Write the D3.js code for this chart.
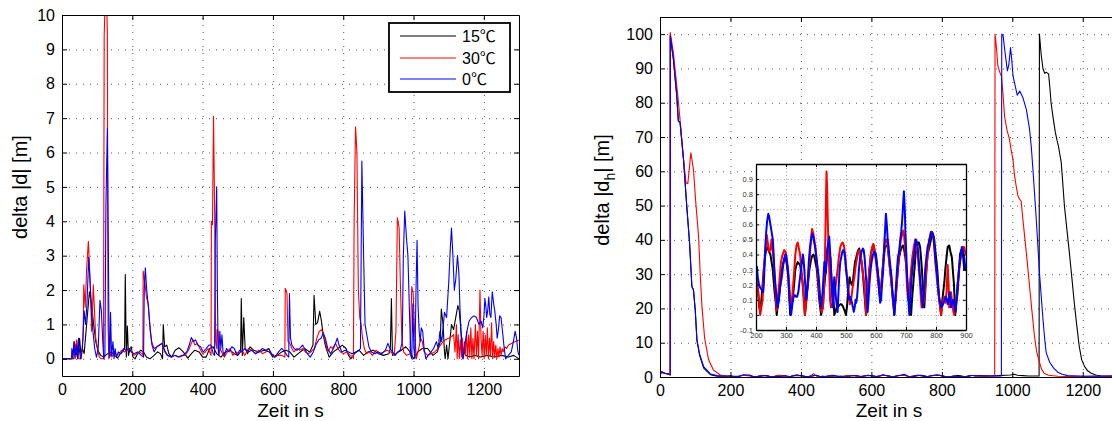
<!DOCTYPE html>
<html>
<head>
<meta charset="utf-8">
<script src="https://cdn.jsdelivr.net/npm/d3@7"></script>
<style>
  body { margin: 0; background: #fff; }
  svg text { font-family: "Liberation Sans", Arial, Helvetica, sans-serif; fill: #000; }
</style>
</head>
<body>
<svg id="chart" width="1112" height="421"></svg>
<script>
// ---------- tick values ----------
const timeTicks = [0, 200, 400, 600, 800, 1000, 1200];
const deltaTicks = [0, 1, 2, 3, 4, 5, 6, 7, 8, 9, 10];
const deltaHTicks = [0, 10, 20, 30, 40, 50, 60, 70, 80, 90, 100];
const insetTimeTicks = [200, 300, 400, 500, 600, 700, 800, 900];
const insetDeltaTicks = [-0.1, 0, 0.1, 0.2, 0.3, 0.4, 0.5, 0.6, 0.7, 0.8, 0.9];

// ---------- series names and colours ----------
const seriesTemps = ["15", "30", "0"];
const seriesUnit = "℃";
const seriesColors = ["#000000", "#ff0000", "#0000ff"];

// ---------- delta |d| [m] over time [s] ----------
const d15 = [[0,0],[30,0],[35,0.45],[40,0.2],[45,0],[50,0.6],[54,0.1],[58,0.3],[63,0.15],[70,1.0],[78,1.95],[84,1.6],[90,1.0],[96,0.5],[102,0.25],[110,0.1],[118,0.05],[130,0.15],[140,0.2],[150,0.1],[158,0.02],[166,0.15],[172,0.2],[178,0.3],[180,2.45],[183,0.05],[186,0.95],[189,0.1],[194,0.3],[197,0.35],[202,0.05],[208,0],[215,0.15],[224,0.25],[232,0.2],[240,0.05],[250,0],[262,0.1],[272,0.2],[280,0.15],[286,0],[288,1.0],[292,0.35],[298,0.4],[304,0.15],[312,0.05],[322,0.25],[333,0.32],[345,0.2],[358,0.02],[368,0.15],[378,0.25],[390,0.2],[400,0.05],[410,0.05],[420,0.3],[430,0.35],[440,0.15],[452,0.05],[465,0.2],[478,0.25],[490,0.15],[500,0.1],[508,0.2],[510,1.75],[513,0.1],[517,1.2],[521,0.3],[528,0.15],[535,0.35],[545,0.25],[560,0.2],[575,0.25],[590,0.2],[600,0.05],[612,0.1],[625,0.2],[637,0.25],[648,0.2],[660,0.05],[672,0.15],[690,0.3],[705,0.2],[714,0.4],[717,1.85],[722,1.0],[727,1.05],[733,1.38],[738,1.1],[743,0.7],[750,0.35],[760,0.05],[772,0.2],[785,0.3],[797,0.4],[808,0.3],[815,0.1],[822,0],[832,0.15],[845,0.25],[858,0.1],[870,0.2],[885,0.25],[900,0.15],[915,0.1],[930,0.15],[934,0.3],[937,1.75],[940,0.1],[950,0.15],[965,0.25],[978,0.35],[990,0.2],[1000,0],[1012,0.2],[1025,0.3],[1040,0.3],[1055,0.1],[1068,0.2],[1076,0.5],[1079,1.45],[1084,1.0],[1088,0.2],[1090,0],[1094,0.4],[1098,0],[1104,0.6],[1108,1.0],[1114,0.85],[1120,1.2],[1126,1.55],[1130,1.4],[1135,0.8],[1140,0.3],[1148,0.1],[1160,0.05],[1175,0.1],[1190,0.05],[1210,0.1],[1230,0.05],[1250,0.1],[1270,0.05],[1285,0.1],[1300,0]];

const d30 = [[0,0],[33,0],[35,0.5],[38,0.3],[42,0.55],[45,0.2],[48,0],[55,0],[57,0.3],[60,0.6],[62,2.15],[66,1.5],[70,2.6],[75,3.42],[79,2.5],[82,1.8],[84,0.8],[86,1.2],[89,2.15],[92,1.5],[96,0.6],[101,0.3],[106,0.05],[112,0],[118,0],[120,9.4],[123,10.5],[127,10.5],[129,9.5],[131,1.0],[133,0],[137,0.15],[142,0.05],[148,0.2],[155,0.1],[162,0.15],[170,0.25],[178,0.2],[185,0.25],[192,0.3],[198,0.2],[205,0.1],[212,0.15],[220,0.2],[228,0.15],[230,0.1],[231,2.55],[236,2.2],[240,1.8],[245,1.6],[250,1.0],[255,0.5],[262,0.3],[270,0.35],[277,0.4],[285,0.45],[292,0.2],[300,0.1],[310,0.05],[320,0.1],[330,0.05],[340,0.1],[350,0.1],[360,0.25],[368,0.45],[373,0.55],[378,0.4],[385,0.45],[392,0.3],[400,0.15],[408,0.2],[415,0.3],[420,0.2],[424,0.1],[425,4.0],[428,3.9],[431,7.05],[434,4.5],[437,0.5],[440,0.3],[441,0.85],[444,0.8],[446,0.1],[450,0.3],[456,0.15],[462,0.05],[470,0.2],[478,0.3],[486,0.1],[495,0.2],[503,0.15],[512,0.25],[520,0.1],[530,0.3],[540,0.25],[550,0.15],[560,0.25],[570,0.15],[580,0.2],[588,0.3],[595,0.15],[605,0.05],[615,0.1],[625,0.1],[634,0.05],[635,2.05],[640,1.9],[643,0.5],[648,0.45],[654,0.3],[660,0.2],[668,0.3],[676,0.25],[685,0.3],[692,0.2],[700,0.15],[708,0.2],[718,0.3],[725,0.6],[732,0.8],[738,0.85],[744,0.7],[750,0.45],[756,0.2],[764,0.35],[770,0.3],[778,0.45],[785,0.3],[792,0.2],[800,0.15],[810,0.2],[820,0.1],[828,0.05],[829,0],[831,4.0],[835,6.75],[839,6.0],[843,2.0],[847,1.2],[851,1.0],[855,0.6],[860,0.3],[866,0.15],[875,0.2],[883,0.1],[893,0.25],[905,0.15],[915,0.2],[925,0.25],[935,0.2],[945,0.1],[950,0.8],[954,4.1],[959,3.8],[963,2.0],[967,0.5],[972,0.2],[980,0.1],[990,0.15],[995,2.1],[999,1.9],[1003,0.8],[1008,0],[1015,0.3],[1020,0.6],[1025,0.5],[1030,0.2],[1040,0.1],[1050,0.15],[1060,0.2],[1070,0.3],[1080,0.45],[1090,0.55],[1100,0.6],[1108,0.65],[1114,0.7],[1118,0.2],[1120,0.6],[1122,1.0],[1124,0],[1127,0.7],[1130,0],[1133,0.55],[1136,0.05],[1139,0.6],[1142,0],[1145,0.5],[1148,0.1],[1151,0.8],[1154,0],[1157,0.7],[1160,0.1],[1163,0.9],[1166,0],[1169,0.6],[1172,0],[1176,1.0],[1179,0.1],[1182,0.8],[1185,0],[1189,2.0],[1192,0.6],[1195,0.1],[1198,0.8],[1201,0],[1204,0.7],[1207,0.1],[1210,0.9],[1213,0],[1216,0.6],[1219,0.1],[1222,1.05],[1225,0],[1228,0.5],[1231,0.05],[1234,0.4],[1237,0],[1240,0.3],[1243,0.05],[1246,0.35],[1249,0.1],[1252,0.3],[1255,0.2],[1260,0.35],[1265,0.3],[1270,0.4],[1280,0.45],[1290,0.5],[1300,0.55]];

const d0 = [[0,0],[27,0],[28,0.3],[31,0.1],[34,0.5],[37,0],[41,0.4],[44,0.1],[47,0.6],[50,0.2],[53,0],[58,0.3],[63,1.4],[67,1.0],[71,1.6],[76,2.95],[80,2.2],[84,1.3],[88,0.8],[93,0.3],[98,0.05],[103,0.3],[108,1.7],[112,1.4],[116,0.5],[119,0],[122,0.1],[125,4.5],[129,6.7],[132,3.0],[134,0.2],[136,0.05],[138,1.35],[141,0.1],[145,0.5],[148,0],[151,0.3],[155,0.05],[160,0.2],[168,0.15],[175,0.3],[182,0.25],[190,0.3],[197,0.2],[205,0.15],[215,0.2],[225,0.1],[232,0.05],[234,2.0],[237,2.65],[241,2.0],[246,1.5],[251,0.8],[256,0.4],[262,0.2],[270,0.35],[278,0.4],[285,0.45],[292,0.25],[300,0.1],[312,0.05],[322,0.1],[333,0.05],[345,0.1],[355,0.2],[362,0.4],[368,0.62],[374,0.5],[380,0.55],[386,0.4],[394,0.35],[402,0.2],[410,0.3],[418,0.4],[424,0.4],[430,0.15],[434,0.1],[436,3.4],[440,5.0],[442,2.0],[444,0.3],[446,0.1],[449,0.8],[452,0.3],[455,0.7],[458,0.2],[462,0.1],[468,0.3],[475,0.2],[483,0.35],[490,0.3],[498,0.1],[505,0.25],[512,0.2],[520,0.3],[530,0.2],[540,0.25],[550,0.15],[560,0.2],[570,0.3],[580,0.25],[588,0.3],[596,0.15],[606,0.05],[616,0.2],[625,0.3],[634,0.2],[640,0.1],[645,0.05],[647,1.9],[650,0.6],[654,0.4],[660,0.3],[668,0.25],[676,0.3],[684,0.4],[690,0.3],[698,0.15],[706,0.05],[715,0.2],[722,0.4],[730,0.55],[737,0.6],[743,0.75],[749,0.6],[756,0.3],[764,0.15],[772,0.3],[778,0.45],[783,0.6],[788,0.4],[796,0.2],[805,0.25],[815,0.2],[825,0.15],[835,0.2],[845,0.25],[849,0.3],[853,5.75],[858,3.0],[862,1.0],[867,0.7],[873,0.35],[880,0.2],[890,0.15],[900,0.2],[910,0.15],[920,0.25],[927,0.45],[933,0.3],[940,0.2],[948,0.1],[955,0.2],[962,0.25],[968,0.5],[971,3.0],[975,4.3],[980,3.5],[984,3.0],[988,1.5],[992,0.1],[995,0],[998,1.6],[1001,0.3],[1004,0],[1007,2.0],[1010,3.45],[1013,1.5],[1016,0.8],[1019,0.5],[1022,0.9],[1026,0.8],[1030,0.3],[1035,0],[1042,0.1],[1050,0.2],[1057,0.3],[1065,0.5],[1070,0.3],[1075,0.8],[1080,0.5],[1084,0.9],[1088,1.35],[1094,1.2],[1100,2.2],[1105,3.3],[1108,3.8],[1112,3.0],[1116,2.0],[1120,2.3],[1125,3.0],[1129,2.5],[1132,1.5],[1136,0.5],[1140,0],[1146,0.4],[1152,0.8],[1158,1.1],[1165,1.2],[1172,1.25],[1179,1.2],[1186,1.0],[1192,1.1],[1197,0.9],[1200,1.2],[1203,1.75],[1206,1.5],[1208,1.2],[1211,1.4],[1214,1.8],[1217,1.3],[1220,1.2],[1224,1.95],[1228,1.6],[1231,1.4],[1235,1.0],[1238,0.6],[1242,0.9],[1245,1.25],[1249,1.2],[1253,0.8],[1258,0.3],[1262,0],[1270,0.1],[1278,0.2],[1284,0.5],[1289,0.8],[1293,0.6],[1297,0.2],[1300,0.1]];

// ---------- delta |d_h| [m]: 0..200 s ----------
const dh15Start = [[0,0.8],[5,1.3],[14,1.0],[24,0.8],[29,0.6],[29.2,99.5],[38,92.7],[47.6,82],[52,74.7],[57,74.2],[66.7,63.5],[76,49.8],[84,39],[90.5,26.4],[95,25.4],[100,19.6],[104.8,10.8],[112,6.5],[124,2.6],[143,0.7],[162,0.25],[180,0.2],[195,0.25]];
const dh30Start = [[0,1.0],[5,1.5],[14,1.1],[24,0.9],[28.8,0.6],[29,100.5],[38,94.6],[47.6,85],[57,75],[66.7,63.5],[74,56.6],[79,56.4],[87.6,65.4],[95,60.5],[102,50.3],[109.5,41],[114,30.3],[119,20.6],[126.7,11.3],[138,5],[152,2],[171,0.6],[185,0.3],[195,0.25]];
const dh0Start = [[0,1.0],[5,1.56],[14,1.07],[24,0.9],[29,0.7],[29.2,99.5],[38,92.7],[47.6,82],[52,74.7],[57,74.2],[66.7,63.5],[76,49.8],[84,39],[90.5,26.4],[95,25.4],[100,19.6],[104.8,10.8],[112,6.9],[124,3],[143,0.9],[162,0.4],[180,0.3],[195,0.3]];

// ---------- delta |d_h| [m]: 200..900 s (also shown enlarged) ----------
const dh15Mid = [[200,0.28],[203,0.2],[207,0.15],[211,0.05],[214,0.02],[218,0.1],[222,0.2],[226,0.3],[231,0.4],[235,0.44],[239,0.45],[243,0.42],[248,0.4],[252,0.35],[256,0.3],[259,0.22],[262,0.15],[266,0.08],[269,0],[272,0.05],[276,0.1],[280,0.18],[283,0.25],[288,0.32],[294,0.37],[299,0.38],[303,0.33],[308,0.25],[311,0.12],[314,0],[318,0.05],[322,0.1],[327,0.2],[331,0.3],[335,0.33],[339,0.35],[343,0.34],[347,0.33],[351,0.28],[356,0.2],[360,0.1],[363,0],[367,0.08],[370,0.15],[374,0.22],[378,0.3],[383,0.36],[387,0.39],[391,0.4],[394,0.39],[398,0.35],[403,0.3],[407,0.2],[411,0.1],[414,0.05],[417,0],[420,0.03],[423,0.05],[426,0.15],[429,0.22],[433,0.3],[436,0.4],[439,0.45],[442,0.43],[445,0.4],[448,0.38],[450,0.3],[453,0.2],[456,0.15],[459,0.08],[461,0],[465,0.02],[469,0.05],[472,0.05],[476,0.06],[481,0.07],[485,0.07],[489,0.06],[493,0.04],[497,0.02],[500,0],[503,0.05],[506,0.12],[509,0.2],[512,0.25],[515,0.22],[519,0.2],[522,0.2],[526,0.28],[530,0.35],[534,0.38],[539,0.42],[544,0.44],[548,0.4],[552,0.35],[556,0.28],[559,0.2],[563,0.1],[567,0],[570,0.1],[574,0.2],[578,0.3],[583,0.4],[587,0.44],[592,0.46],[596,0.42],[600,0.4],[604,0.32],[608,0.25],[611,0.18],[614,0.1],[618,0.2],[622,0.3],[626,0.38],[630,0.45],[634,0.46],[639,0.45],[643,0.38],[647,0.3],[652,0.2],[656,0.12],[661,0],[665,0.1],[669,0.2],[673,0.3],[677,0.38],[681,0.42],[686,0.45],[690,0.46],[694,0.43],[698,0.38],[702,0.3],[705,0.2],[709,0.1],[713,0.05],[717,0],[720,0.1],[724,0.2],[728,0.3],[732,0.4],[736,0.45],[739,0.48],[743,0.48],[747,0.45],[750,0.38],[753,0.3],[756,0.2],[759,0.1],[761,0.05],[764,0.15],[768,0.3],[772,0.4],[778,0.45],[783,0.5],[787,0.55],[791,0.53],[794,0.5],[798,0.42],[802,0.35],[806,0.25],[809,0.15],[811,0.1],[814,0.05],[817,0],[820,0.08],[824,0.15],[828,0.22],[831,0.3],[835,0.38],[839,0.45],[844,0.46],[848,0.42],[853,0.38],[856,0.3],[860,0.2],[864,0],[868,0.08],[872,0.15],[876,0.28],[880,0.4],[884,0.43],[887,0.43],[890,0.4],[894,0.3],[897,0.3],[900,0.3]];

const dh30Mid = [[200,0.23],[205,0.2],[210,0.1],[214,0],[218,0.05],[222,0.1],[226,0.3],[231,0.42],[236,0.53],[241,0.45],[244,0.42],[248,0.43],[252,0.5],[256,0.42],[261,0.3],[265,0.15],[269,0.03],[272,0.1],[277,0.2],[283,0.35],[289,0.4],[294,0.43],[298,0.42],[302,0.38],[307,0.3],[311,0.2],[314,0.1],[317,0.05],[322,0.15],[327,0.28],[331,0.4],[335,0.46],[339,0.48],[343,0.44],[347,0.4],[351,0.3],[356,0.2],[360,0.08],[363,0],[367,0.08],[370,0.15],[374,0.25],[378,0.35],[383,0.5],[387,0.57],[391,0.54],[394,0.5],[398,0.45],[403,0.35],[407,0.25],[411,0.15],[415,0.07],[419,0.02],[423,0.05],[426,0.15],[429,0.3],[431,0.5],[433,0.75],[435,0.95],[437,0.85],[439,0.65],[441,0.5],[444,0.3],[447,0.1],[450,0.05],[453,0.05],[457,0.08],[461,0.15],[466,0.2],[472,0.3],[476,0.38],[481,0.45],[485,0.47],[489,0.48],[493,0.46],[497,0.4],[501,0.3],[506,0.2],[510,0.12],[513,0.07],[517,0.1],[522,0.18],[528,0.25],[532,0.32],[537,0.38],[541,0.42],[544,0.43],[548,0.4],[552,0.35],[556,0.28],[561,0.2],[564,0.1],[567,0],[570,0.1],[574,0.2],[578,0.3],[583,0.4],[587,0.45],[591,0.47],[595,0.43],[600,0.35],[604,0.28],[608,0.2],[611,0.15],[614,0.1],[618,0.2],[622,0.3],[626,0.4],[630,0.48],[634,0.5],[637,0.48],[641,0.42],[644,0.35],[648,0.28],[652,0.2],[656,0.1],[661,0.03],[665,0.1],[669,0.2],[672,0.3],[676,0.38],[680,0.45],[683,0.5],[687,0.53],[691,0.56],[694,0.52],[697,0.45],[700,0.35],[703,0.2],[706,0.12],[708,0.1],[712,0.18],[717,0.3],[721,0.38],[726,0.45],[731,0.5],[735,0.46],[739,0.4],[743,0.3],[747,0.2],[750,0.1],[752,0.05],[756,0.06],[761,0.1],[765,0.22],[770,0.35],[774,0.43],[778,0.5],[782,0.53],[786,0.55],[789,0.53],[792,0.5],[796,0.4],[800,0.3],[804,0.22],[808,0.15],[812,0.08],[817,0],[820,0.05],[824,0.1],[828,0.12],[831,0.08],[835,0.15],[839,0.33],[842,0.2],[844,0.05],[847,0.1],[850,0.15],[853,0.1],[856,0.05],[858,0.02],[861,0],[865,0.05],[870,0.15],[874,0.25],[878,0.33],[882,0.38],[886,0.43],[890,0.45],[894,0.45],[897,0.42],[900,0.4]];

const dh0Mid = [[200,0.3],[203,0.32],[206,0.25],[210,0.2],[214,0.18],[218,0.17],[222,0.16],[224,0.15],[226,0.2],[229,0.35],[231,0.45],[234,0.55],[237,0.62],[241,0.67],[244,0.65],[248,0.6],[252,0.55],[256,0.5],[259,0.4],[261,0.3],[264,0.22],[267,0.15],[270,0.08],[272,0.05],[276,0.1],[280,0.18],[286,0.25],[290,0.32],[294,0.37],[297,0.4],[300,0.4],[303,0.35],[306,0.3],[309,0.2],[312,0.1],[314,0.05],[317,0],[320,0.05],[323,0.1],[327,0.13],[330,0.13],[333,0.12],[337,0.12],[341,0.15],[344,0.2],[347,0.25],[350,0.3],[353,0.35],[356,0.4],[358,0.38],[361,0.3],[364,0.2],[367,0.1],[369,0.12],[372,0.2],[376,0.35],[380,0.45],[384,0.5],[387,0.54],[391,0.52],[394,0.48],[397,0.45],[400,0.4],[403,0.35],[406,0.3],[409,0.25],[411,0.2],[414,0.1],[417,0.05],[419,0.1],[422,0.15],[425,0.25],[428,0.35],[431,0.3],[433,0.28],[436,0.38],[439,0.45],[442,0.5],[444,0.52],[447,0.42],[450,0.3],[453,0.15],[456,0.05],[458,0.15],[461,0.25],[464,0.18],[467,0.1],[470,0.05],[472,0.02],[475,0.15],[478,0.28],[481,0.35],[484,0.38],[488,0.42],[491,0.43],[494,0.42],[497,0.38],[500,0.3],[503,0.25],[506,0.18],[509,0.12],[511,0.1],[514,0.12],[517,0.1],[520,0.08],[523,0.05],[526,0.02],[529,0.05],[532,0.1],[534,0.08],[537,0.12],[540,0.2],[543,0.3],[547,0.38],[552,0.42],[556,0.44],[559,0.43],[562,0.38],[565,0.3],[568,0.2],[570,0.1],[572,0.02],[575,0.1],[578,0.2],[582,0.3],[586,0.36],[590,0.4],[594,0.42],[598,0.4],[602,0.35],[606,0.28],[609,0.2],[611,0.15],[614,0.08],[617,0.1],[620,0.2],[624,0.3],[627,0.45],[630,0.55],[633,0.67],[636,0.6],[639,0.5],[642,0.45],[644,0.4],[648,0.32],[652,0.25],[655,0.15],[658,0.08],[661,0],[664,0.1],[667,0.2],[670,0.3],[673,0.38],[677,0.42],[681,0.5],[684,0.55],[687,0.62],[690,0.72],[693,0.82],[696,0.7],[698,0.55],[701,0.4],[704,0.25],[708,0.1],[711,0],[714,0.08],[717,0.2],[721,0.3],[724,0.35],[728,0.42],[733,0.5],[736,0.48],[739,0.45],[742,0.38],[745,0.3],[748,0.22],[751,0.15],[754,0.1],[756,0.05],[760,0.15],[764,0.3],[768,0.38],[772,0.45],[776,0.48],[780,0.52],[783,0.55],[787,0.54],[791,0.52],[795,0.45],[799,0.35],[803,0.28],[806,0.2],[810,0.12],[814,0.08],[817,0.05],[821,0.06],[825,0.08],[829,0.1],[833,0.12],[836,0.1],[839,0.07],[842,0.1],[845,0.15],[848,0.12],[850,0.05],[854,0.08],[858,0.1],[861,0.06],[865,0.02],[868,0.1],[872,0.2],[875,0.25],[878,0.32],[882,0.38],[886,0.45],[890,0.43],[894,0.38],[897,0.33],[900,0.3]];

// ---------- delta |d_h| [m]: 900..1300 s ----------
const dh15End = [[900,0.3],[920,0.25],[940,0.3],[960,0.4],[980,0.5],[995,0.6],[1005,0.8],[1015,0.5],[1030,0.4],[1045,0.3],[1060,0.3],[1076,0.3],[1077,100],[1082,94],[1087,89.9],[1092,88.6],[1096,88.9],[1103,88.4],[1107,84],[1110,80],[1116,75.5],[1122,71.4],[1127,69],[1131,67.3],[1139,62.5],[1148,49.8],[1155,43],[1162,36.2],[1169,29],[1176,21.6],[1183,15],[1190,8.9],[1197,5],[1205,3.1],[1214,1.8],[1224,1.1],[1237,0.6],[1252,0.3],[1280,0.2],[1300,0.2]];
const dh30End = [[900,0.4],[910,0.3],[920,0.35],[930,0.3],[940,0.35],[950,0.4],[951,100],[955,96],[959,90.8],[964,89],[969,87.8],[974,82],[978,76],[985,72],[992,69.3],[997,66],[1002,63.4],[1006,59],[1011,55.7],[1016,52.8],[1020,52],[1025,51.3],[1030,46],[1035,41],[1042,34],[1049,26.4],[1056,19],[1063,11.8],[1069,7.5],[1075,5],[1083,2.3],[1091,1],[1103,0.5],[1129,0.2],[1160,0.15],[1200,0.2],[1250,0.2],[1300,0.3]];
const dh0End = [[900,0.4],[920,0.35],[940,0.3],[960,0.35],[969,0.3],[970,100],[974,99.5],[979,95],[986,89.3],[990,91],[995,96.1],[998,93],[1002,87.8],[1008,85],[1014,82.2],[1021,83.4],[1030,81.5],[1040,78],[1049,72.2],[1054,67],[1058.5,60.6],[1068,46],[1077,30.5],[1087,16.9],[1092,11],[1096,7.2],[1106,4.3],[1118,2.5],[1129,1.4],[1142,0.8],[1157,0.4],[1205,0.2],[1250,0.25],[1300,0.3]];

// ---------- layout ----------
const svg = d3.select("#chart");
const FS = 16;

const xLeft = d3.scaleLinear().domain([0, 1300]).range([62, 519]);
const yLeft = d3.scaleLinear().domain([-0.5, 10]).range([376, 15]);
const xRight = d3.scaleLinear().domain([0, 1300]).range([660, 1118]);
const yRight = d3.scaleLinear().domain([0, 105]).range([377, 17]);
const xInset = d3.scaleLinear().domain([200, 900]).range([756, 966]);
const yInset = d3.scaleLinear().domain([-0.1, 1.0]).range([330, 164]);

let clipCount = 0;

// Draws white background, dotted grid, series, frame and inward ticks of one axes box.
function drawAxes(g, x, y, xTicks, yTicks, series, o) {
  const [x0, x1] = x.range();
  const [y0, y1] = y.range();
  const w = x1 - x0, h = y0 - y1;

  g.append("rect").attr("x", x0).attr("y", y1).attr("width", w).attr("height", h).attr("fill", "#fff");

  // dotted grid
  const gx = g.append("g").attr("transform", `translate(0,${y0})`)
    .call(d3.axisBottom(x).tickValues(xTicks).tickSize(-h).tickFormat(""));
  const gy = g.append("g").attr("transform", `translate(${x0},0)`)
    .call(d3.axisLeft(y).tickValues(yTicks).tickSize(-w).tickFormat(""));
  [gx, gy].forEach(a => {
    a.select(".domain").remove();
    a.selectAll("line").attr("stroke", o.gridColor).attr("stroke-width", o.gridWidth).attr("stroke-dasharray", o.gridDash);
  });

  // series
  const id = "clip" + (clipCount++);
  g.append("clipPath").attr("id", id).append("rect").attr("x", x0).attr("y", y1).attr("width", w).attr("height", h);
  const line = d3.line().x(d => x(d[0])).y(d => y(d[1]));
  const sg = g.append("g").attr("clip-path", `url(#${id})`);
  series.forEach(s => {
    sg.append("path").datum(s.data).attr("d", line).attr("fill", "none")
      .attr("stroke", s.color).attr("stroke-width", o.lineWidth).attr("stroke-linejoin", "round");
  });

  // frame with inward ticks on all four sides
  const tl = o.tickLen;
  const bottom = g.append("g").attr("transform", `translate(0,${y0})`)
    .call(d3.axisBottom(x).tickValues(xTicks).tickSize(-tl).tickSizeOuter(0).tickPadding(o.padX).tickFormat(o.xFormat));
  const top = g.append("g").attr("transform", `translate(0,${y1})`)
    .call(d3.axisTop(x).tickValues(xTicks).tickSize(-tl).tickSizeOuter(0).tickFormat(""));
  const left = g.append("g").attr("transform", `translate(${x0},0)`)
    .call(d3.axisLeft(y).tickValues(yTicks).tickSize(-tl).tickSizeOuter(0).tickPadding(o.padY).tickFormat(o.yFormat));
  const right = g.append("g").attr("transform", `translate(${x1},0)`)
    .call(d3.axisRight(y).tickValues(yTicks).tickSize(-tl).tickSizeOuter(0).tickFormat(""));
  [bottom, top, left, right].forEach(a => {
    a.attr("font-size", null).attr("font-family", null);
    a.select(".domain").attr("stroke", "#000").attr("stroke-width", o.frameWidth);
    a.selectAll(".tick line").attr("stroke", "#000").attr("stroke-width", 1);
    a.selectAll(".tick text").attr("font-size", o.fontSize).style("fill", o.labelColor);
  });
}

const fmtInt = d => String(d);
const fmtInset = d => (Math.abs(d) < 1e-9 ? "0" : (Math.round(d * 10) / 10).toFixed(1));

const mainOpts = {
  gridColor: "#555", gridWidth: 1, gridDash: "1,6", lineWidth: 1.1, tickLen: 5,
  padX: 8, padY: 7, frameWidth: 1, fontSize: FS, labelColor: "#000",
  xFormat: fmtInt, yFormat: fmtInt
};

const AXIS_LABEL_FS = 19;
const AXIS_LABEL_Y = 416.5;

// ---------- left panel: delta |d| ----------
const gL = svg.append("g");
drawAxes(gL, xLeft, yLeft, timeTicks, deltaTicks, [
  { data: d15, color: seriesColors[0] },
  { data: d30, color: seriesColors[1] },
  { data: d0, color: seriesColors[2] }
], mainOpts);

gL.append("text").attr("x", (xLeft.range()[0] + xLeft.range()[1]) / 2).attr("y", AXIS_LABEL_Y)
  .attr("text-anchor", "middle").attr("font-size", AXIS_LABEL_FS).text("Zeit in s");
gL.append("text").attr("transform", "translate(27,187) rotate(-90)")
  .attr("text-anchor", "middle").attr("font-size", 20).text("delta |d| [m]");

// legend
const leg = gL.append("g");
leg.append("rect").attr("x", 389).attr("y", 23).attr("width", 121).attr("height", 69)
  .attr("fill", "#fff").attr("stroke", "#000").attr("stroke-width", 1.8);
const legY = [36, 58, 79];
seriesTemps.forEach((temp, i) => {
  leg.append("line").attr("x1", 400).attr("x2", 456).attr("y1", legY[i]).attr("y2", legY[i])
    .attr("stroke", seriesColors[i]).attr("stroke-width", 1.1);
  const t = leg.append("text").attr("x", 462).attr("y", legY[i]).attr("dy", "0.36em").attr("font-size", FS);
  t.append("tspan").text(temp);
  t.append("tspan").style("font-family", "'Noto Sans CJK SC', 'Noto Sans CJK JP', sans-serif").text(seriesUnit);
});

// ---------- right panel: delta |d_h| ----------
const gR = svg.append("g");
drawAxes(gR, xRight, yRight, timeTicks, deltaHTicks, [
  { data: dh15Start.concat(dh15Mid, dh15End), color: seriesColors[0] },
  { data: dh30Start.concat(dh30Mid, dh30End), color: seriesColors[1] },
  { data: dh0Start.concat(dh0Mid, dh0End), color: seriesColors[2] }
], mainOpts);

gR.append("text").attr("x", (xRight.range()[0] + xRight.range()[1]) / 2).attr("y", AXIS_LABEL_Y)
  .attr("text-anchor", "middle").attr("font-size", AXIS_LABEL_FS).text("Zeit in s");
const yl = gR.append("text").attr("transform", "translate(609,190) rotate(-90)")
  .attr("text-anchor", "middle").attr("font-size", 20);
yl.append("tspan").text("delta |d");
yl.append("tspan").attr("font-size", 14).attr("dy", 6).text("h");
yl.append("tspan").attr("dy", -6).text("| [m]");

// enlarged view of 200..900 s
const gI = svg.append("g");
drawAxes(gI, xInset, yInset, insetTimeTicks, insetDeltaTicks, [
  { data: dh15Mid, color: seriesColors[0] },
  { data: dh30Mid, color: seriesColors[1] },
  { data: dh0Mid, color: seriesColors[2] }
], {
  gridColor: "#888", gridWidth: 0.8, gridDash: "1,2.5", lineWidth: 2, tickLen: 3,
  padX: 3, padY: 3, frameWidth: 1.3, fontSize: 7.5, labelColor: "#333",
  xFormat: fmtInt, yFormat: fmtInset
});
</script>
</body>
</html>
